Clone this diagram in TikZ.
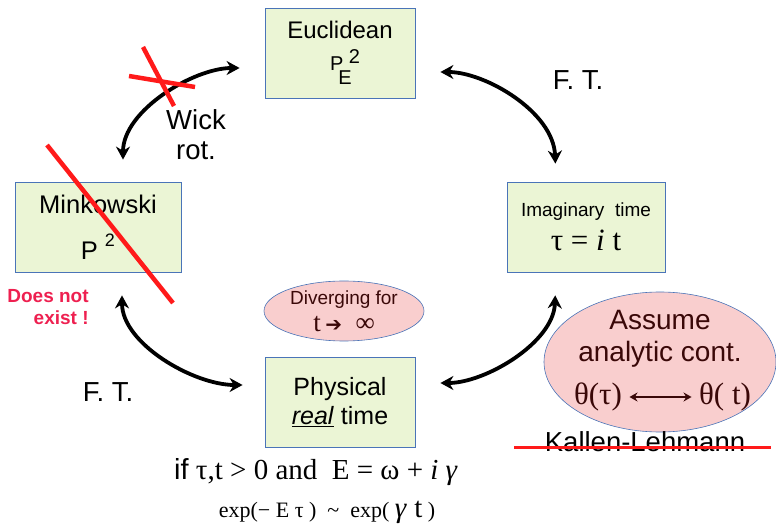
\documentclass[tikz,border=0pt]{standalone}
\usepackage{fontspec}
\setmainfont{Liberation Serif}
\setsansfont{Liberation Sans}
\newfontfamily\symfont{DejaVu Sans}
\usetikzlibrary{arrows.meta, shapes.geometric}

\definecolor{boxgreen}{HTML}{EBF5D5}
\definecolor{boxblue}{HTML}{4A74B8}
\definecolor{ovalpink}{HTML}{F9CECE}
\definecolor{hotred}{HTML}{FF1A1A}
\definecolor{warnred}{HTML}{EE2050}
\definecolor{darkmaroon}{HTML}{3A0808}

\begin{document}
\begin{tikzpicture}[
    x=1pt, y=1pt,
    box/.style={draw=boxblue, fill=boxgreen, line width=0.8pt, minimum height=90pt,
                align=center, inner sep=0pt},
    oval/.style={ellipse, draw=boxblue, fill=ovalpink, line width=0.6pt, inner sep=0pt},
    flow/.style={{Stealth[length=13pt,width=14pt]}-{Stealth[length=13pt,width=14pt]},
                 line width=3.8pt},
    cross/.style={draw=hotred, line width=4.5pt},
    lbl/.style={font=\sffamily\fontsize{27.5}{30}\selectfont, align=center},
]
    \useasboundingbox (0,0) rectangle (776,525);

    % the four boxes
    \node[box, minimum width=150pt, font=\sffamily\fontsize{24}{32}\selectfont] (eucl) at (340,472)
        {Euclidean\\{\fontsize{20}{20}\selectfont \hspace{10pt}P\hspace{-5pt}\raisebox{-14pt}{E}\hspace{-3pt}\raisebox{7pt}{2}}};
    \node[box, minimum width=166pt, font=\sffamily\fontsize{25.5}{46}\selectfont] (mink) at (98,298)
        {Minkowski\\P\hspace{7pt}\raisebox{13pt}{\fontsize{18}{18}\selectfont 2}};
    \node[box, minimum width=158pt, font=\sffamily\fontsize{19}{34}\selectfont] (imag) at (586,298)
        {Imaginary\ \ time\\{\rmfamily\fontsize{31}{34}\selectfont τ = \textit{i} t}};
    \node[box, minimum width=150pt, font=\sffamily\fontsize{25}{29}\selectfont] (phys) at (340,123)
        {Physical\\\underline{\textit{real}} time};

    % the two ovals
    \node[oval, minimum width=160pt, minimum height=60pt, text=darkmaroon, align=center,
          font=\sffamily\fontsize{19}{27}\selectfont] (diverge) at (344,214)
        {Diverging for\\{\rmfamily\fontsize{27}{27}\selectfont t\,{\symfont\fontsize{20}{20}\selectfont ➔}\ \ ∞}};
    \node[oval, minimum width=232pt, minimum height=140pt] (assume) at (660,163) {};
    \node[lbl, text=darkmaroon, font=\sffamily\fontsize{28}{32}\selectfont] (assumetxt)
        at ([yshift=23pt]assume.center) {Assume\\analytic cont.};
    \node[text=darkmaroon, font=\fontsize{31}{34}\selectfont] (thtau) at (598,128) {θ(τ)};
    \node[text=darkmaroon, font=\fontsize{31}{34}\selectfont] (tht) at (725,128) {θ( t)};
    \draw[darkmaroon, line width=1.8pt, {Stealth[length=8pt,width=9pt]}-{Stealth[length=8pt,width=9pt]},
          shorten <=4pt, shorten >=4pt] (thtau) -- (tht);

    % transforms between the boxes
    \draw[flow, shorten <=25pt, shorten >=22pt] ([yshift=-15pt]eucl.west) to[out=180, in=90] ([xshift=25pt]mink.north);
    \draw[flow, shorten <=25pt, shorten >=18pt] ([yshift=-19pt]eucl.east) to[out=0, in=92] ([xshift=-30pt]imag.north);
    \draw[flow, shorten <=23pt, shorten >=22pt] ([xshift=24pt]mink.south) to[out=-90, in=180] ([yshift=17pt]phys.west);
    \draw[flow, shorten <=25pt, shorten >=23pt] ([yshift=19pt]phys.east) to[out=0, in=-92] ([xshift=-30pt]imag.south);

    % labels
    \node[lbl] (wick) at (196,390) {Wick\\rot.};
    \node[lbl] (ftright) at (578,445) {F. T.};
    \node[lbl] (ftleft) at (108,133) {F. T.};
    \node[text=warnred, font=\sffamily\bfseries\fontsize{19}{22}\selectfont, align=right] (noexist)
        at (48,218) {Does not\\exist !};
    \node[lbl] (kallen) at (645,83) {Kallen-Lehmann};
    \node[font=\rmfamily\fontsize{29}{30}\selectfont] (cond) at (316,53)
        {{\sffamily if} τ,t > 0 and\ \ E = ω + \textit{i γ}};
    \node[font=\rmfamily\fontsize{22}{24}\selectfont] (expo) at (327,13)
        {exp(− E τ )\ \ \textasciitilde\ \ exp( {\fontsize{29}{29}\selectfont\textit{γ} t} )};

    % crossed out
    \draw[cross] (143,478) -- (174,419);
    \draw[cross] (129,449) -- (195,438);
    \draw[cross] (47,380) -- (173,222);
    \draw[cross, line width=3pt] ([xshift=-27pt,yshift=-5pt]kallen.west) -- ([xshift=22pt,yshift=-5pt]kallen.east);

\end{tikzpicture}
\end{document}
